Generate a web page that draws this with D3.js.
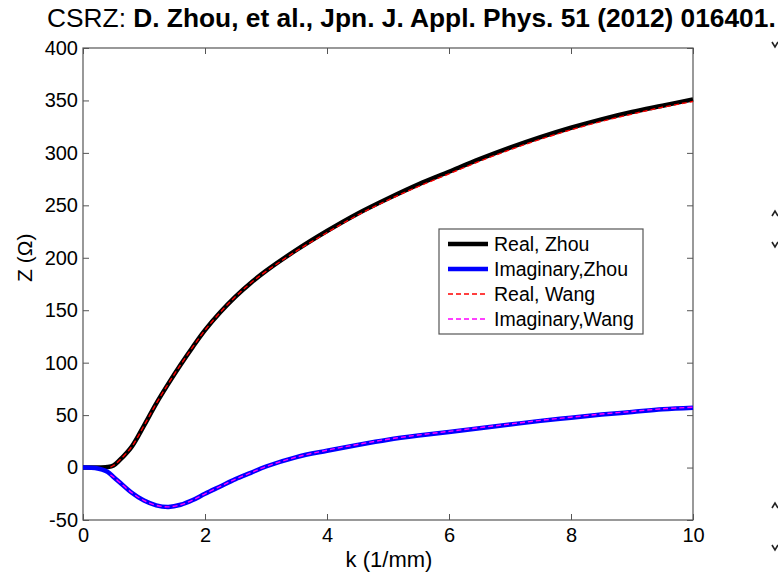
<!DOCTYPE html>
<html>
<head>
<meta charset="utf-8">
<script src="https://cdn.jsdelivr.net/npm/d3@7"></script>
<style>
  body { margin: 0; background: #fff; }
  svg { display: block; }
  text { font-family: "Liberation Sans", Arial, Helvetica, sans-serif; fill: #000; }
</style>
</head>
<body>
<svg id="chart" width="778" height="574"></svg>
<script>
//----------------------------------------------------------- DATA
var kZhou      = [0, 0.2, 0.4, 0.5, 0.6, 0.8, 1.0, 1.2, 1.4, 1.6, 1.8, 2.0, 2.25, 2.5, 2.75, 3.0, 3.5, 4.0, 4.5, 5.0, 5.5, 6.0, 6.5, 7.0, 7.5, 8.0, 8.5, 9.0, 9.5, 10];
var realZhou   = [0, 0, 0.5, 2, 7, 20, 40, 61, 80, 98, 115, 131, 148, 163, 176, 187.5, 207.5, 225.5, 242, 256.5, 270, 282, 294, 305, 315, 324, 332, 339, 345, 351];
var imagZhou   = [0, -0.5, -4, -9, -14, -24, -31.5, -36, -37.5, -35.5, -31, -25, -18, -11, -5, 1, 10, 16, 21.5, 26.5, 30.5, 34, 37.5, 41, 44.5, 47.5, 50.5, 53, 55.5, 57];

var kWang      = [0.45, 0.5, 0.6, 0.8, 1.0, 1.2, 1.4, 1.6, 1.8, 2.0, 2.25, 2.5, 2.75, 3.0, 3.5, 4.0, 4.5, 5.0, 5.5, 6.0, 6.5, 7.0, 7.5, 8.0, 8.5, 9.0, 9.5, 10];
var realWang   = [0.5, 2, 7, 20, 40, 61, 80, 98, 115, 131, 148, 163, 176, 187, 206.5, 224, 240.5, 255, 268, 280, 292, 303, 313, 322, 330, 337, 343.5, 349];
var imagWang   = [-7, -9, -14, -24, -31.5, -36, -37.5, -35.5, -31, -25, -18, -11, -5, 1, 10, 16.5, 22, 27, 31, 34.5, 38, 41.5, 45, 48, 51, 53.5, 56, 57.5];

var xTicks = [0, 2, 4, 6, 8, 10];
var yTicks = [-50, 0, 50, 100, 150, 200, 250, 300, 350, 400];

var legendLabels = ["Real, Zhou", "Imaginary,Zhou", "Real, Wang", "Imaginary,Wang"];

//----------------------------------------------------------- LAYOUT
var svg = d3.select("#chart");
var L = 83, R = 693, T = 48, B = 520;

var x = d3.scaleLinear().domain([0, 10]).range([L, R]);
var y = d3.scaleLinear().domain([-50, 400]).range([B, T]);

var axisColor = "#555";
var plain = function(d){ return String(d); };   // hyphen minus like the original

// title
var title = svg.append("text")
	.attr("x", 47).attr("y", 27)
	.attr("font-size", 20);
title.append("tspan").text("CSRZ: ");
title.append("tspan").attr("font-weight", "bold")
	.text("D. Zhou, et al., Jpn. J. Appl. Phys. 51 (2012) 016401.");
var tw = title.node().getComputedTextLength();
title.attr("font-size", 20 * 729 / tw);

// axes (ticks inward on all four sides)
function styleAxis(g) {
	g.select(".domain").remove();
	g.selectAll(".tick line").attr("stroke", axisColor);
	g.selectAll(".tick text").attr("font-size", 20).attr("fill", "#000")
		.attr("font-family", "'Liberation Sans', Arial, sans-serif");
}

svg.append("g").attr("transform", "translate(0," + B + ")")
	.call(d3.axisBottom(x).tickValues(xTicks).tickSize(-6).tickPadding(8).tickFormat(plain))
	.call(styleAxis);
svg.append("g").attr("transform", "translate(0," + T + ")")
	.call(d3.axisTop(x).tickValues(xTicks).tickSize(-6).tickFormat(""))
	.call(styleAxis);
svg.append("g").attr("transform", "translate(" + L + ",0)")
	.call(d3.axisLeft(y).tickValues(yTicks).tickSize(-6).tickPadding(5).tickFormat(plain))
	.call(styleAxis);
svg.append("g").attr("transform", "translate(" + R + ",0)")
	.call(d3.axisRight(y).tickValues(yTicks).tickSize(-6).tickFormat(""))
	.call(styleAxis);

svg.append("rect")
	.attr("x", L).attr("y", T).attr("width", R - L).attr("height", B - T)
	.attr("fill", "none").attr("stroke", axisColor).attr("stroke-width", 1.2);

// axis labels
svg.append("text")
	.attr("x", 389).attr("y", 567)
	.attr("text-anchor", "middle").attr("font-size", 22)
	.text("k (1/mm)");
svg.append("text")
	.attr("transform", "translate(32," + y(200) + ") rotate(-90)")
	.attr("text-anchor", "middle").attr("font-size", 21)
	.text("Z (\u03A9)");

//----------------------------------------------------------- CURVES
var line = d3.line()
	.x(function(d){ return x(d[0]); })
	.y(function(d){ return y(d[1]); })
	.curve(d3.curveCatmullRom);

function zip(ks, vs){ return ks.map(function(k, i){ return [k, vs[i]]; }); }

var series = [
	{data: zip(kZhou, realZhou), color: "#000000", width: 4.5, dash: null},
	{data: zip(kZhou, imagZhou), color: "#0000ff", width: 4.5, dash: null},
	{data: zip(kWang, realWang), color: "#ff0000", width: 1.4, dash: "5,3"},
	{data: zip(kWang, imagWang), color: "#ff00ff", width: 1.4, dash: "5,3"}
];

var plot = svg.append("g");
series.forEach(function(s){
	plot.append("path")
		.datum(s.data)
		.attr("d", line)
		.attr("fill", "none")
		.attr("stroke", s.color)
		.attr("stroke-width", s.width)
		.attr("stroke-dasharray", s.dash)
		.attr("stroke-linejoin", "round");
});

//----------------------------------------------------------- LEGEND
var lg = svg.append("g").attr("transform", "translate(439,229)");
lg.append("rect")
	.attr("width", 204).attr("height", 105)
	.attr("fill", "#fff").attr("stroke", "#555").attr("stroke-width", 1.2);
legendLabels.forEach(function(lab, i){
	var s = series[i], cy = 15 + i * 25;
	lg.append("line")
		.attr("x1", 9).attr("x2", 49).attr("y1", cy).attr("y2", cy)
		.attr("stroke", s.color).attr("stroke-width", s.width)
		.attr("stroke-dasharray", s.dash);
	lg.append("text")
		.attr("x", 55).attr("y", cy + 7)
		.attr("font-size", 19.5)
		.text(lab);
});

//----------------------------------------------------------- edge marks (cut-off neighbour figure)
var marks = [[45, 1], [213, -1], [245, 1], [505, -1], [548, 1]];
marks.forEach(function(m){
	svg.append("path")
		.attr("d", "M772," + (m[0] - 3 * m[1]) + " L775," + (m[0] + 2 * m[1]) + " L778," + (m[0] - 3 * m[1]))
		.attr("fill", "none").attr("stroke", "#222").attr("stroke-width", 1.6);
});
</script>
</body>
</html>
